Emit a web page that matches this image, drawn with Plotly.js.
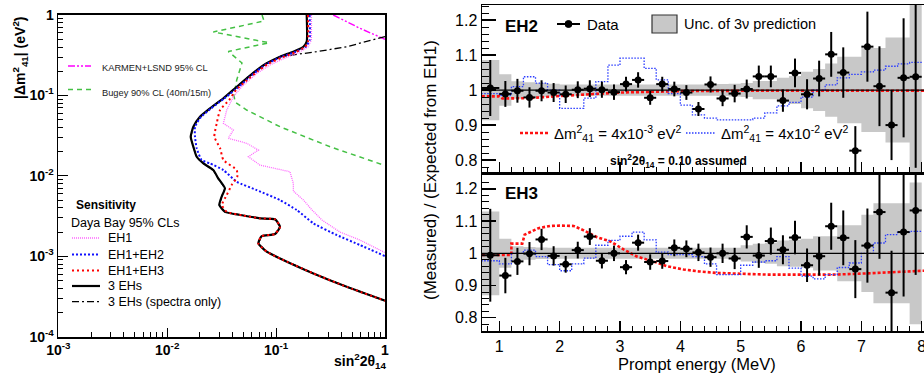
<!DOCTYPE html>
<html>
<head>
<meta charset="utf-8">
<script src="https://cdn.plot.ly/plotly-3.0.1.min.js"></script>
<style>html,body{margin:0;padding:0;background:#fff;}#chart{width:924px;height:375px;}</style>
</head>
<body>
<div id="chart"></div>
<script>
// ---------------- Left panel: exclusion contours (sin^2 2θ14 vs |Δm^2_41|) ----------------
const karmenX = [0.335, 0.589, 1.0];
const karmenY = [1.0, 0.683, 0.499];

const bugeyX = [0.0743, 0.0775, 0.0265, 0.0861, 0.0364, 0.0486, 0.0435, 0.0410, 0.0420, 0.0537, 0.1086, 0.313, 1.0];
const bugeyY = [1.0, 0.842, 0.615, 0.452, 0.352, 0.253, 0.1555, 0.101, 0.0828, 0.0658, 0.0408, 0.0230, 0.01343];

const eh1X = [0.211, 0.211, 0.196, 0.159, 0.118, 0.0879, 0.0664, 0.0483, 0.0405, 0.0352, 0.0328, 0.0405, 0.0364, 0.0537, 0.0687, 0.0556, 0.0711, 0.134, 0.144, 0.144, 0.178, 0.214, 0.264, 0.386, 0.589, 1.0];
const eh1Y = [1.0, 0.489, 0.400, 0.337, 0.288, 0.239, 0.188, 0.128, 0.0964, 0.0658, 0.0450, 0.0371, 0.0293, 0.0254, 0.0209, 0.0173, 0.0136, 0.01125, 0.00807, 0.00647, 0.0050, 0.00376, 0.00282, 0.0020, 0.00159, 0.00111];

const eh12X = [0.203, 0.203, 0.188, 0.152, 0.111, 0.0834, 0.0675, 0.0546, 0.0429, 0.0333, 0.0252, 0.0204, 0.0180, 0.0180, 0.01866, 0.0207, 0.0247, 0.0328, 0.0435, 0.0664, 0.1086, 0.1546, 0.220, 0.360, 0.589, 1.0];
const eh12Y = [1.0, 0.489, 0.406, 0.350, 0.300, 0.249, 0.204, 0.160, 0.120, 0.0915, 0.0687, 0.0539, 0.0408, 0.0306, 0.0220, 0.01573, 0.01429, 0.0118, 0.00845, 0.00665, 0.0050, 0.00376, 0.00257, 0.00184, 0.00138, 0.001005];

const eh13X = [0.196, 0.196, 0.184, 0.149, 0.113, 0.0843, 0.0683, 0.0541, 0.0429, 0.0370, 0.0306, 0.0285, 0.0271, 0.0306, 0.0328, 0.0435, 0.0440, 0.0391, 0.0352, 0.0318, 0.0352, 0.0500, 0.0711, 0.0977, 0.1086, 0.0977, 0.0738, 0.0687, 0.082, 0.1086, 0.220, 0.445, 1.0];
const eh13Y = [1.0, 0.466, 0.400, 0.342, 0.296, 0.246, 0.201, 0.1555, 0.1167, 0.0877, 0.0658, 0.0450, 0.0306, 0.0220, 0.01573, 0.0118, 0.00975, 0.00769, 0.00577, 0.00434, 0.00357, 0.00321, 0.00296, 0.00288, 0.00233, 0.00189, 0.00178, 0.00145, 0.00114, 0.00094, 0.000612, 0.000417, 0.00028];

const all3X = [0.191, 0.191, 0.178, 0.144, 0.1087, 0.082, 0.0664, 0.0537, 0.0420, 0.0328, 0.0247, 0.0200, 0.01738, 0.01644, 0.01738, 0.01866, 0.0215, 0.0265, 0.0294, 0.0339, 0.0316, 0.0301, 0.0339, 0.0500, 0.0711, 0.0977, 0.1086, 0.0977, 0.0738, 0.0687, 0.082, 0.1086, 0.220, 0.445, 1.0];
const all3Y = [1.0, 0.466, 0.403, 0.350, 0.303, 0.251, 0.207, 0.163, 0.1226, 0.092, 0.0691, 0.0543, 0.0408, 0.0306, 0.0230, 0.01726, 0.01429, 0.0118, 0.00931, 0.0070, 0.0055, 0.00434, 0.00357, 0.00321, 0.00296, 0.00288, 0.00233, 0.00189, 0.00178, 0.00145, 0.00114, 0.00094, 0.000612, 0.000417, 0.00028];

const specX = [1.0, 0.445, 0.236, 0.166, 0.1087, 0.082, 0.0664, 0.0537, 0.0420, 0.0328, 0.0247, 0.0200, 0.01738, 0.01644, 0.01738, 0.01866, 0.0215, 0.0265, 0.0294, 0.0339, 0.0316, 0.0301, 0.0339, 0.0500, 0.0711, 0.0977, 0.1086, 0.0977, 0.0738, 0.0687, 0.082, 0.1086, 0.220, 0.445, 1.0];
const specY = [0.54, 0.403, 0.350, 0.327, 0.303, 0.251, 0.207, 0.163, 0.1226, 0.092, 0.0691, 0.0543, 0.0408, 0.0306, 0.0230, 0.01726, 0.01429, 0.0118, 0.00931, 0.0070, 0.0055, 0.00434, 0.00357, 0.00321, 0.00296, 0.00288, 0.00233, 0.00189, 0.00178, 0.00145, 0.00114, 0.00094, 0.000612, 0.000417, 0.00028];

const logTickVals = [0.0001, 0.001, 0.01, 0.1, 1];
const logTickText = ["<b>10<sup>-4</sup></b>", "<b>10<sup>-3</sup></b>", "<b>10<sup>-2</sup></b>", "<b>10<sup>-1</sup></b>", "<b>1</b>"];

// ---------------- Right panels: ratio spectra ----------------
const binEdges = [0.7, 1.0, 1.2, 1.4, 1.6, 1.8, 2.0, 2.2, 2.4, 2.6, 2.8, 3.0, 3.2, 3.4, 3.6, 3.8, 4.0, 4.2, 4.4, 4.6, 4.8, 5.0, 5.2, 5.4, 5.6, 5.8, 6.0, 6.2, 6.4, 6.6, 6.8, 7.0, 7.2, 7.4, 7.6, 7.8, 8.0];

const eh2Ratio = [1.006, 0.989, 0.998, 0.979, 0.998, 0.993, 0.988, 1.001, 1.004, 1.001, 0.994, 1.017, 1.029, 0.978, 1.017, 1.003, 0.993, 0.946, 1.016, 0.976, 0.990, 1.003, 1.039, 1.039, 0.970, 1.049, 0.988, 1.033, 1.102, 1.050, 0.827, 1.124, 1.011, 0.900, 1.035, 1.038];
const eh2Err = [0.080, 0.037, 0.034, 0.029, 0.030, 0.027, 0.025, 0.024, 0.024, 0.023, 0.022, 0.021, 0.022, 0.020, 0.021, 0.021, 0.021, 0.020, 0.023, 0.022, 0.025, 0.027, 0.031, 0.031, 0.032, 0.041, 0.043, 0.051, 0.064, 0.072, 0.070, 0.100, 0.114, 0.100, 0.170, 0.260];
const eh2Band = [0.086, 0.045, 0.025, 0.022, 0.020, 0.018, 0.016, 0.016, 0.016, 0.016, 0.016, 0.016, 0.016, 0.016, 0.016, 0.016, 0.016, 0.016, 0.016, 0.017, 0.018, 0.020, 0.026, 0.026, 0.035, 0.040, 0.052, 0.060, 0.076, 0.095, 0.095, 0.120, 0.120, 0.150, 0.150, 0.260];
const eh2Blue = [0.990, 0.985, 1.010, 1.038, 1.020, 1.000, 0.948, 0.948, 0.977, 1.024, 1.071, 1.091, 1.091, 1.062, 1.029, 0.990, 0.957, 0.929, 0.920, 0.915, 0.915, 0.915, 0.920, 0.935, 0.955, 0.965, 0.980, 1.000, 1.015, 1.035, 1.045, 1.052, 1.057, 1.068, 1.075, 1.079];
const eh2RedE = [0.71, 1.0, 1.05, 1.5, 2.0, 2.5, 3.0, 3.5, 4.0, 5.0, 6.0, 7.0, 8.04];
const eh2RedV = [0.982, 0.982, 0.976, 0.977, 0.983, 0.989, 0.993, 0.995, 0.997, 0.998, 0.998, 0.998, 0.998];

const eh3Ratio = [0.994, 0.931, 0.975, 0.999, 1.043, 0.992, 0.966, 1.010, 1.052, 0.977, 1.000, 0.957, 1.033, 0.973, 0.976, 1.017, 1.014, 1.003, 0.988, 1.000, 0.984, 1.051, 0.993, 1.038, 1.011, 1.049, 0.963, 0.991, 1.084, 1.048, 0.951, 1.024, 1.128, 0.878, 1.066, 1.133];
const eh3Err = [0.144, 0.055, 0.042, 0.036, 0.033, 0.030, 0.026, 0.026, 0.026, 0.024, 0.024, 0.022, 0.025, 0.024, 0.024, 0.026, 0.026, 0.027, 0.030, 0.030, 0.033, 0.036, 0.038, 0.042, 0.045, 0.052, 0.052, 0.060, 0.073, 0.085, 0.090, 0.115, 0.145, 0.130, 0.200, 0.200];
const eh3Band = [0.130, 0.045, 0.022, 0.020, 0.018, 0.017, 0.017, 0.017, 0.017, 0.017, 0.017, 0.017, 0.017, 0.017, 0.017, 0.017, 0.017, 0.017, 0.017, 0.017, 0.017, 0.025, 0.030, 0.032, 0.040, 0.042, 0.045, 0.053, 0.053, 0.087, 0.087, 0.120, 0.155, 0.155, 0.155, 0.220];
const eh3Blue = [0.977, 0.967, 1.000, 1.010, 0.990, 0.965, 0.946, 0.967, 0.985, 1.025, 1.040, 1.053, 1.066, 1.042, 1.004, 0.996, 0.996, 0.990, 0.967, 0.934, 0.934, 0.963, 0.973, 0.977, 0.990, 0.954, 0.929, 0.921, 0.934, 0.956, 0.970, 1.000, 1.032, 1.058, 1.066, 1.068];
const eh3RedE = [0.71, 1.2, 1.2, 1.38, 1.42, 1.56, 1.65, 1.84, 2.0, 2.23, 2.39, 2.62, 2.84, 3.06, 3.28, 3.55, 3.78, 4.05, 4.3, 4.61, 5.0, 5.43, 6.0, 6.54, 7.0, 7.37, 8.04];
const eh3RedV = [0.995, 0.995, 1.030, 1.030, 1.058, 1.070, 1.078, 1.085, 1.086, 1.085, 1.072, 1.050, 1.037, 1.012, 0.990, 0.975, 0.960, 0.950, 0.944, 0.939, 0.936, 0.934, 0.934, 0.934, 0.937, 0.941, 0.946];

const ratioTickVals = [0.8, 0.9, 1.0, 1.1, 1.2];
const ratioTickText = ["0.8", "0.9", "1", "1.1", "1.2"];

// ---------------- helpers ----------------
const W = 924, H = 375;
const PX = p => p / W;
const PY = p => 1 - p / H;
const FONT = "Liberation Sans, Arial, Helvetica, sans-serif";

const binCenters = binEdges.slice(0, -1).map((e, i) => (e + binEdges[i + 1]) / 2);
const binHalf = binEdges.slice(0, -1).map((e, i) => (binEdges[i + 1] - e) / 2);
const stepY = arr => arr.concat([arr[arr.length - 1]]);

const COL = {
  karmen: "#ff00ff", bugey: "#44c044", eh1: "#ff66ff", eh12: "#1010ff", eh13: "#ff0000",
  black: "#000000", band: "#c8c8c8", redR: "#ff1010", blueR: "#2a3cff"
};
const DASH = { karmen: "7px,2px,2px,2px,2px,2px", spec: "7px,3px,2px,3px" };

const traces = [];
// Left panel contours
traces.push({x: karmenX, y: karmenY, xaxis: "x", yaxis: "y", mode: "lines", line: {color: COL.karmen, width: 1.4, dash: DASH.karmen}, hoverinfo: "skip"});
traces.push({x: bugeyX, y: bugeyY, xaxis: "x", yaxis: "y", mode: "lines", line: {color: COL.bugey, width: 1.5, dash: "5px,4px"}, hoverinfo: "skip"});
traces.push({x: specX, y: specY, xaxis: "x", yaxis: "y", mode: "lines", line: {color: COL.black, width: 1.3, dash: DASH.spec}, hoverinfo: "skip"});
traces.push({x: eh1X, y: eh1Y, xaxis: "x", yaxis: "y", mode: "lines", line: {color: COL.eh1, width: 1.3, dash: "1px,1px"}, hoverinfo: "skip"});
traces.push({x: all3X, y: all3Y, xaxis: "x", yaxis: "y", mode: "lines", line: {color: COL.black, width: 2.2, shape: "spline", smoothing: 0.5}, hoverinfo: "skip"});
traces.push({x: eh12X, y: eh12Y, xaxis: "x", yaxis: "y", mode: "lines", line: {color: COL.eh12, width: 2, dash: "2px,2px", shape: "spline", smoothing: 0.5}, hoverinfo: "skip"});
traces.push({x: eh13X, y: eh13Y, xaxis: "x", yaxis: "y", mode: "lines", line: {color: COL.eh13, width: 2, dash: "2px,3px", shape: "spline", smoothing: 0.5}, hoverinfo: "skip"});

// Right panels
function ratioPanel(xa, ya, ratio, err, band, blue, redE, redV) {
  const lo = stepY(band.map(b => 1 - b));
  const hi = stepY(band.map(b => 1 + b));
  traces.push({x: binEdges, y: lo, xaxis: xa, yaxis: ya, mode: "lines", line: {width: 0, shape: "hv"}, hoverinfo: "skip"});
  traces.push({x: binEdges, y: hi, xaxis: xa, yaxis: ya, mode: "lines", line: {width: 0, shape: "hv"}, fill: "tonexty", fillcolor: COL.band, hoverinfo: "skip"});
  traces.push({x: redE, y: redV, xaxis: xa, yaxis: ya, mode: "lines", line: {color: COL.redR, width: 2.6, dash: "3px,2px"}, hoverinfo: "skip"});
  traces.push({x: binEdges, y: stepY(blue), xaxis: xa, yaxis: ya, mode: "lines", line: {color: COL.blueR, width: 1.3, dash: "1.5px,1.5px", shape: "hv"}, hoverinfo: "skip"});
  traces.push({x: binCenters, y: ratio, xaxis: xa, yaxis: ya, mode: "markers",
    marker: {color: "#000", size: 7, symbol: "circle"},
    error_y: {type: "data", array: err, color: "#000", thickness: 2, width: 0},
    error_x: {type: "data", array: binHalf, color: "#000", thickness: 2, width: 0},
    hoverinfo: "skip"});
}
ratioPanel("x2", "y2", eh2Ratio, eh2Err, eh2Band, eh2Blue, eh2RedE, eh2RedV);
ratioPanel("x3", "y3", eh3Ratio, eh3Err, eh3Band, eh3Blue, eh3RedE, eh3RedV);

// minor tick positions on log axes (2..9 per decade)
function logMinors(lo, hi) {
  const out = [];
  for (let d = lo; d < hi; d++) for (let k = 2; k <= 9; k++) out.push(k * Math.pow(10, d));
  return out;
}

const ratioY = (dom, rng) => ({
  domain: dom, range: rng, showline: true, linewidth: 1.5, linecolor: "#000", mirror: false,
  ticks: "inside", ticklen: 14, tickwidth: 1.3, tickcolor: "#000",
  tickmode: "array", tickvals: ratioTickVals, ticktext: ratioTickText,
  tickfont: {family: FONT, size: 16, color: "#000"}, showgrid: false, zeroline: false,
  minor: {ticks: "inside", ticklen: 7, tickwidth: 1, tickcolor: "#000", dtick: 0.02, tick0: 0, showgrid: false}
});
const ratioX = (dom, anchor, showLabels) => ({
  domain: dom, anchor: anchor, range: [0.713, 8.038], showline: true, linewidth: 1.5, linecolor: "#000", mirror: true,
  ticks: "inside", ticklen: 10, tickwidth: 1.3, tickcolor: "#000", dtick: 1, tick0: 0,
  showticklabels: showLabels, ticklabeloverflow: "allow", tickfont: {family: FONT, size: 16, color: "#000"},
  showgrid: false, zeroline: false,
  minor: {ticks: "inside", ticklen: 5, tickwidth: 1, tickcolor: "#000", dtick: 0.2, tick0: 0, showgrid: false}
});

const shapes = [];
// 1.0 reference lines
["2", "3"].forEach(n => shapes.push({type: "line", xref: "x" + n + " domain", yref: "y" + n, x0: 0, x1: 1, y0: 1, y1: 1, line: {color: "#000", width: 1.2}, layer: "above"}));

// legend keys (paper pixel positions)
function keyLine(x0, x1, y, color, width, dash) {
  shapes.push({type: "line", xref: "paper", yref: "paper", x0: PX(x0), x1: PX(x1), y0: PY(y), y1: PY(y), line: {color: color, width: width, dash: dash}});
}
keyLine(68, 91, 66, COL.karmen, 1.4, DASH.karmen);
keyLine(68, 91, 89.5, COL.bugey, 1.5, "5px,4px");
keyLine(72, 100, 238, COL.eh1, 1.3, "1px,1px");
keyLine(72, 100, 254.5, COL.eh12, 2, "2px,2px");
keyLine(72, 100, 270.5, COL.eh13, 2, "2px,3px");
keyLine(72, 100, 286, COL.black, 2.2, "solid");
keyLine(72, 100, 301.7, COL.black, 1.3, DASH.spec);
keyLine(557, 580, 24, "#000", 2, "solid");
shapes.push({type: "circle", xref: "paper", yref: "paper", x0: PX(565), x1: PX(572), y0: PY(27.5), y1: PY(20.5), fillcolor: "#000", line: {color: "#000", width: 1}});
shapes.push({type: "rect", xref: "paper", yref: "paper", x0: PX(652), x1: PX(677), y0: PY(33), y1: PY(15), fillcolor: COL.band, line: {color: "#333", width: 1.2}});
keyLine(520, 548, 133, COL.redR, 2.6, "3px,2px");
keyLine(686, 716, 133, COL.blueR, 1.3, "1.5px,1.5px");

function ann(text, x, y, size, opts) {
  return Object.assign({text: text, x: PX(x), y: PY(y), xref: "paper", yref: "paper", showarrow: false,
    xanchor: "left", yanchor: "middle", font: {family: FONT, size: size, color: "#000"}}, opts || {});
}
const annotations = [
  ann("KARMEN+LSND 95% CL", 100, 68, 9.3, {font: {family: FONT, size: 9.3, color: "#222"}}),
  ann("Bugey 90% CL (40m/15m)", 100, 93, 9.3, {font: {family: FONT, size: 9.3, color: "#222"}}),
  ann("<b>Sensitivity</b>", 74, 204.5, 12),
  ann("Daya Bay 95% CLs", 69, 222.5, 12.5),
  ann("EH1", 106, 238, 12.5),
  ann("EH1+EH2", 106, 254.5, 12.5),
  ann("EH1+EH3", 106, 270.5, 12.5),
  ann("3 EHs", 106, 286, 12.5),
  ann("3 EHs (spectra only)", 106, 301.7, 12.5),
  ann("<b>|Δm<sup>2</sup><sub>41</sub>| (eV<sup>2</sup>)</b>", 20, 58, 14, {textangle: -90, xanchor: "center"}),
  ann("<b>sin<sup>2</sup>2θ<sub>14</sub></b>", 332, 361, 14),
  ann("<b>EH2</b>", 503, 27, 17),
  ann("<b>EH3</b>", 503, 193, 17),
  ann("Data", 585, 24, 15),
  ann("Unc. of 3ν prediction", 682, 24, 14.5),
  ann("Δm<sup>2</sup><sub>41</sub> = 4x10<sup>-3</sup> eV<sup>2</sup>", 552, 134, 15),
  ann("Δm<sup>2</sup><sub>41</sub> = 4x10<sup>-2</sup> eV<sup>2</sup>", 719, 134, 15),
  ann("<b>sin<sup>2</sup>2θ<sub>14</sub> = 0.10 assumed</b>", 678, 161, 12, {xanchor: "center"}),
  ann("(Measured) / (Expected from EH1)", 430, 170, 17, {textangle: -90, xanchor: "center"}),
  ann("Prompt energy (MeV)", 697, 364, 16.5, {xanchor: "center"})
];

const layout = {
  width: W, height: H, margin: {l: 0, r: 0, t: 0, b: 0},
  paper_bgcolor: "#fff", plot_bgcolor: "#fff", showlegend: false,
  font: {family: FONT, color: "#000"},
  xaxis: {
    domain: [PX(58.3), PX(385)], anchor: "y", type: "log", range: [-3, 0],
    showline: true, linewidth: 1.8, linecolor: "#000", mirror: true,
    ticks: "inside", ticklen: 9, tickwidth: 1.2, tickcolor: "#000",
    tickmode: "array", tickvals: logTickVals.slice(1), ticktext: logTickText.slice(1),
    tickfont: {family: FONT, size: 14, color: "#000"}, showgrid: false, zeroline: false,
    minor: {ticks: "inside", ticklen: 5, tickwidth: 1, tickcolor: "#000", tickmode: "array", tickvals: logMinors(-3, 0), showgrid: false}
  },
  yaxis: {
    domain: [PY(336.7), PY(15)], anchor: "x", type: "log", range: [-4, 0],
    showline: true, linewidth: 1.8, linecolor: "#000", mirror: true,
    ticks: "inside", ticklen: 10, tickwidth: 1.2, tickcolor: "#000",
    tickmode: "array", tickvals: logTickVals, ticktext: logTickText,
    tickfont: {family: FONT, size: 14, color: "#000"}, showgrid: false, zeroline: false,
    minor: {ticks: "inside", ticklen: 5, tickwidth: 1, tickcolor: "#000", tickmode: "array", tickvals: logMinors(-4, 0), showgrid: false}
  },
  xaxis2: ratioX([PX(482), 1], "y2", false),
  yaxis2: Object.assign(ratioY([PY(172), PY(5)], [0.766, 1.243]), {anchor: "x2"}),
  xaxis3: ratioX([PX(482), 1], "y3", true),
  yaxis3: Object.assign(ratioY([PY(331), PY(175)], [0.759, 1.243]), {anchor: "x3"}),
  shapes: shapes,
  annotations: annotations
};

Plotly.newPlot("chart", traces, layout, {staticPlot: true, displayModeBar: false});
</script>
</body>
</html>
